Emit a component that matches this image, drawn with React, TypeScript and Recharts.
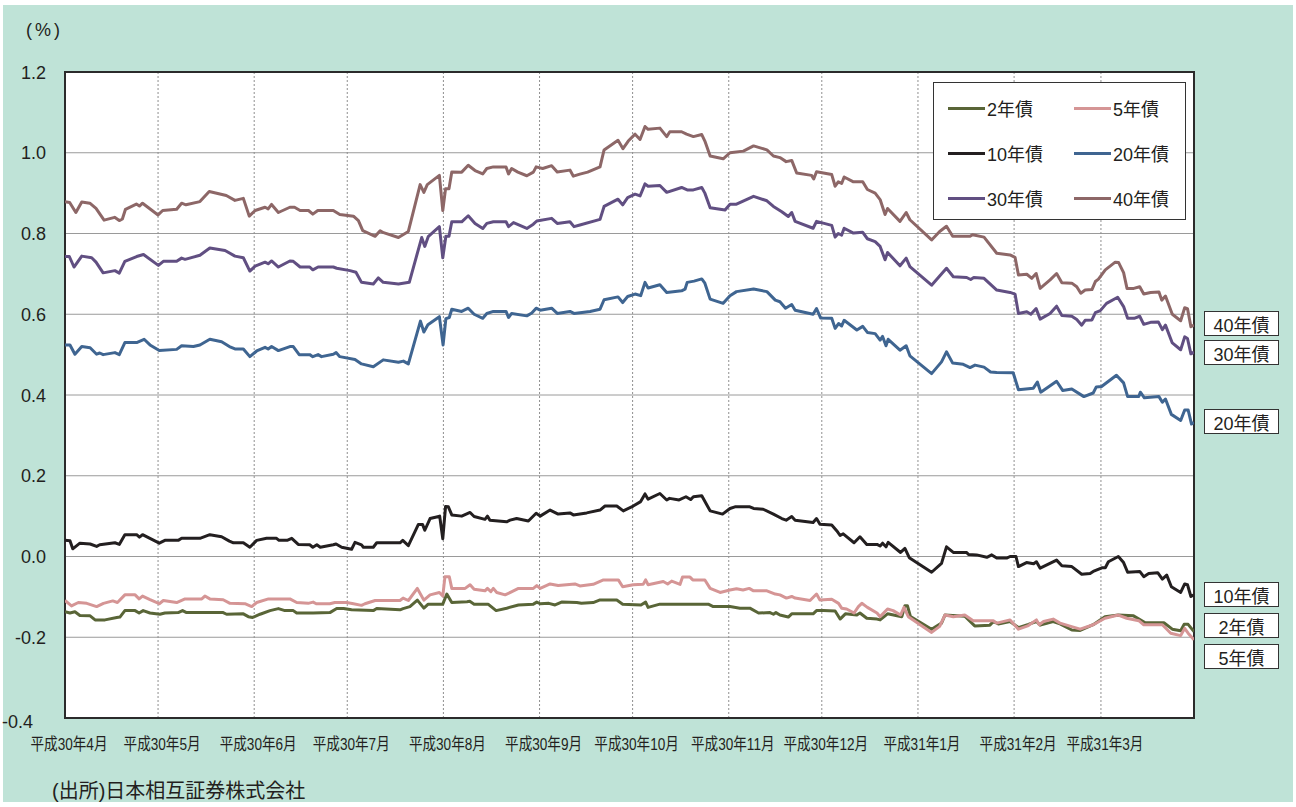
import React from 'react';
import { LineChart, Line, XAxis, YAxis, CartesianGrid, ReferenceArea } from 'recharts';

// days counted from 平成30年4月1日 (calendar days), yield in %
const monthTicks = [0, 30, 61, 91, 122, 153, 183, 214, 244, 275, 306, 334];
const monthLabels = [
  '平成30年4月', '平成30年5月', '平成30年6月', '平成30年7月', '平成30年8月', '平成30年9月',
  '平成30年10月', '平成30年11月', '平成30年12月', '平成31年1月', '平成31年2月', '平成31年3月',
];
const yTicks = [-0.4, -0.2, 0, 0.2, 0.4, 0.6, 0.8, 1.0, 1.2];

const bond2: [number, number][] = [
  [0, -0.137], [1.6, -0.14], [3.2, -0.137], [4.8, -0.146], [8.1, -0.147], [9.7, -0.157], [12.9, -0.157],
  [16.7, -0.151], [17.7, -0.15], [19.3, -0.134], [22.6, -0.134], [23.9, -0.14], [25.2, -0.134], [27.4, -0.14],
  [30.6, -0.143], [32.2, -0.14], [36.5, -0.139], [37.9, -0.134], [39.2, -0.139], [45.7, -0.139], [51, -0.139],
  [52.1, -0.143], [57.5, -0.142], [59.1, -0.149], [60.5, -0.151], [62.9, -0.143], [66.1, -0.134], [68.8, -0.129],
  [70.9, -0.134], [73.6, -0.134], [74.7, -0.14], [80, -0.14], [85.4, -0.139], [87.6, -0.129], [89.8, -0.129],
  [92.4, -0.132], [99.4, -0.134], [100.5, -0.129], [108, -0.132], [109, -0.129], [111.2, -0.124], [113.6, -0.108],
  [115.7, -0.128], [117.1, -0.118], [121.8, -0.118], [123.1, -0.093], [124.7, -0.114], [129.6, -0.112],
  [130.5, -0.111], [131.9, -0.118], [136.4, -0.118], [139, -0.134], [142.4, -0.128], [146.2, -0.12], [151, -0.118],
  [152.1, -0.113], [153.2, -0.117], [156, -0.116], [158, -0.12], [160.1, -0.113], [165, -0.114], [166.5, -0.116],
  [170.3, -0.114], [172.3, -0.108], [177.9, -0.108], [179.8, -0.118], [185.7, -0.12], [187.2, -0.113],
  [188, -0.126], [191.8, -0.118], [204, -0.118], [207.4, -0.118], [209, -0.124], [214.4, -0.124], [217.6, -0.128],
  [220.8, -0.128], [223.6, -0.14], [227.3, -0.139], [228.4, -0.143], [229.2, -0.139], [230.5, -0.145],
  [233.2, -0.15], [234.3, -0.142], [241.2, -0.142], [242.3, -0.134], [244.5, -0.134], [248.3, -0.135],
  [249.9, -0.155], [251.6, -0.142], [255.3, -0.145], [256.3, -0.14], [258.5, -0.153], [261.8, -0.155],
  [262.8, -0.157], [265.2, -0.142], [269.8, -0.149], [270.8, -0.122], [271.6, -0.122], [272.6, -0.149],
  [279.4, -0.18], [282.6, -0.165], [283.7, -0.145], [290.1, -0.148], [293.3, -0.172], [298.2, -0.17],
  [299.3, -0.161], [300.9, -0.167], [304.7, -0.161], [307.4, -0.176], [310.6, -0.168], [313.2, -0.161],
  [314.4, -0.17], [318.6, -0.161], [320.8, -0.167], [324.6, -0.182], [327.3, -0.183], [331.5, -0.169],
  [335.3, -0.149], [339.6, -0.145], [344.5, -0.147], [348.3, -0.164], [354.3, -0.164], [357, -0.18],
  [359.7, -0.184], [360.8, -0.168], [362.1, -0.168], [364, -0.186],
];

const bond5: [number, number][] = [
  [0, -0.109], [2.1, -0.1225], [4.3, -0.114], [7, -0.116], [10.2, -0.124], [12.4, -0.116], [15.4, -0.11],
  [16.9, -0.114], [19.3, -0.095], [22.6, -0.095], [23.9, -0.105], [25, -0.098], [27.4, -0.107], [30.4, -0.117],
  [31.7, -0.109], [36, -0.114], [38.7, -0.105], [44.1, -0.105], [45.1, -0.098], [46.7, -0.105], [51, -0.107],
  [53.2, -0.116], [58, -0.117], [60.2, -0.124], [61.8, -0.114], [65.6, -0.105], [72.5, -0.105], [74.7, -0.114],
  [78.4, -0.116], [80, -0.113], [81, -0.117], [85.4, -0.117], [87, -0.114], [90.8, -0.114], [93, -0.117],
  [95.6, -0.121], [96.7, -0.117], [100, -0.109], [108, -0.109], [109, -0.103], [110.7, -0.109], [113.6, -0.079],
  [115.7, -0.108], [117.7, -0.095], [120.7, -0.089], [121.8, -0.098], [122.5, -0.05], [123.9, -0.05],
  [124.7, -0.079], [129, -0.079], [130.6, -0.07], [131.9, -0.081], [135.4, -0.085], [136.2, -0.079],
  [137.3, -0.087], [138.1, -0.079], [139.2, -0.089], [141.9, -0.095], [144.1, -0.087], [146.2, -0.079],
  [151, -0.079], [152.1, -0.072], [153.2, -0.079], [156.4, -0.068], [159, -0.072], [164.4, -0.068],
  [166, -0.073], [170.3, -0.069], [173.6, -0.058], [178.4, -0.058], [179.8, -0.075], [183.2, -0.07],
  [186.4, -0.069], [187.2, -0.058], [188, -0.07], [192.9, -0.062], [194.3, -0.068], [195.6, -0.061],
  [198.3, -0.069], [199.1, -0.051], [201.5, -0.051], [202.4, -0.058], [206.3, -0.058], [208, -0.079],
  [211.2, -0.089], [214.4, -0.083], [216.5, -0.08], [218.6, -0.083], [220.6, -0.079], [222, -0.085],
  [226.3, -0.085], [229, -0.093], [230.5, -0.095], [232.6, -0.103], [234.3, -0.099], [235.4, -0.103],
  [240.2, -0.109], [242.3, -0.093], [243.4, -0.108], [247.2, -0.106], [249.4, -0.116], [250.4, -0.128],
  [252, -0.13], [254.4, -0.14], [255.8, -0.124], [256.9, -0.116], [258.7, -0.126], [261.8, -0.14],
  [262.8, -0.149], [265.2, -0.13], [267, -0.134], [269.4, -0.145], [270.5, -0.126], [271.9, -0.149],
  [279.4, -0.188], [282, -0.173], [283.7, -0.145], [286.4, -0.149], [290.1, -0.145], [292.8, -0.159],
  [299.3, -0.159], [300.4, -0.165], [304.7, -0.157], [307.4, -0.18], [310.6, -0.171], [313.2, -0.157],
  [314.1, -0.169], [315.5, -0.161], [318.6, -0.155], [320.8, -0.165], [325.1, -0.175], [327.3, -0.18],
  [331.5, -0.169], [335.3, -0.153], [339.6, -0.145], [342.3, -0.153], [346.2, -0.159], [347.8, -0.169],
  [353.8, -0.169], [356.5, -0.19], [359.7, -0.196], [361, -0.178], [362.1, -0.19], [364, -0.206],
];

const bond10: [number, number][] = [
  [0, 0.04], [1.6, 0.039], [2.5, 0.019], [4.8, 0.033], [8.1, 0.031], [10.2, 0.025], [11.2, 0.029], [16.1, 0.034],
  [17.5, 0.03], [19.3, 0.054], [23.1, 0.054], [24, 0.048], [25, 0.054], [30.4, 0.033], [32.2, 0.04], [36.5, 0.04],
  [37.6, 0.045], [43.5, 0.045], [46.7, 0.054], [50.5, 0.049], [53, 0.038], [54.3, 0.034], [57.5, 0.034],
  [59.6, 0.023], [61.8, 0.04], [65, 0.045], [68.2, 0.045], [69, 0.04], [71.6, 0.04], [73.1, 0.045], [75.2, 0.03],
  [78.9, 0.029], [79.9, 0.023], [81.2, 0.029], [82.3, 0.023], [86.5, 0.029], [87.4, 0.031], [89.2, 0.023],
  [92.4, 0.018], [93.5, 0.035], [95.6, 0.029], [96.2, 0.023], [99.4, 0.023], [100.5, 0.034], [108, 0.034],
  [108.9, 0.04], [110.7, 0.027], [113.9, 0.079], [115.3, 0.079], [116, 0.065], [117.7, 0.094], [119.8, 0.098],
  [120.8, 0.1], [121.8, 0.044], [122.7, 0.124], [123.6, 0.123], [124.7, 0.103], [127.9, 0.1], [130.6, 0.109],
  [131.9, 0.099], [135.4, 0.092], [136.2, 0.1], [137, 0.09], [142.4, 0.086], [143.5, 0.09], [145.6, 0.094],
  [149.4, 0.088], [151.9, 0.107], [153.2, 0.1], [156.4, 0.115], [159, 0.105], [162.8, 0.108], [163.9, 0.103],
  [168.2, 0.108], [172.5, 0.115], [174.1, 0.125], [177.9, 0.125], [180, 0.113], [183.2, 0.125], [185.6, 0.136],
  [187, 0.155], [188, 0.142], [191.8, 0.156], [194, 0.14], [194.9, 0.144], [198, 0.14], [200.2, 0.148],
  [201.7, 0.141], [202.6, 0.148], [205.3, 0.1505], [208, 0.113], [212, 0.105], [214.4, 0.119], [216, 0.123],
  [220.8, 0.123], [222, 0.119], [225.1, 0.117], [228.4, 0.105], [231.1, 0.094], [232.5, 0.09], [234.3, 0.099],
  [235.4, 0.09], [241.2, 0.084], [242.3, 0.094], [243.4, 0.08], [247.2, 0.078], [248.8, 0.064], [249.9, 0.052],
  [250.9, 0.056], [254.4, 0.034], [256.3, 0.049], [258.5, 0.03], [261.8, 0.03], [262.8, 0.026], [263.6, 0.033],
  [264.7, 0.024], [265.4, 0.035], [269.4, 0.01], [270.8, 0.02], [272.2, -0.003], [279.4, -0.039],
  [282.6, -0.017], [284.2, 0.024], [286.4, 0.01], [290.7, 0.01], [291.3, 0.005], [293.9, 0.004], [297.2, -0.002],
  [298.8, 0.004], [300.4, -0.004], [303.6, -0.004], [304.7, 0.0], [306.6, 0.0], [307.4, -0.025], [310, -0.015],
  [312.3, -0.018], [313.2, -0.013], [314.4, -0.029], [319.7, -0.009], [321.4, -0.023], [324.6, -0.025],
  [327.8, -0.044], [330.5, -0.042], [331.5, -0.037], [334.3, -0.028], [335.4, -0.028], [336.4, -0.013],
  [339.6, 0.0], [341.3, -0.015], [342.6, -0.039], [346.5, -0.037], [347.8, -0.05], [349.4, -0.042],
  [352.3, -0.04], [353.8, -0.056], [355.2, -0.046], [356.7, -0.075], [359.7, -0.089], [361, -0.068],
  [361.9, -0.07], [363, -0.099], [364, -0.095],
];

const bond20: [number, number][] = [
  [0, 0.524], [1.6, 0.524], [3.2, 0.501], [5.4, 0.52], [8.1, 0.517], [10.2, 0.501], [11.2, 0.504], [12.3, 0.5],
  [16.1, 0.505], [17.5, 0.5], [19.3, 0.53], [23.1, 0.53], [25.5, 0.538], [27.4, 0.524], [30.4, 0.51], [36, 0.513],
  [37.6, 0.522], [41.4, 0.52], [43.5, 0.524], [46.7, 0.538], [50.5, 0.532], [53, 0.52], [54.8, 0.514],
  [57.5, 0.514], [59.6, 0.495], [61.8, 0.509], [64.5, 0.518], [65.5, 0.514], [66.6, 0.52], [68.8, 0.51],
  [72.5, 0.52], [73.6, 0.52], [75.5, 0.5], [78.9, 0.5], [79.9, 0.495], [81.6, 0.5], [82.7, 0.495], [86.5, 0.501],
  [87.4, 0.505], [88.6, 0.495], [93.5, 0.488], [95.6, 0.477], [99.4, 0.47], [102.6, 0.487], [107.5, 0.481],
  [109.1, 0.484], [110.7, 0.477], [114.6, 0.583], [115.7, 0.556], [117, 0.574], [120.7, 0.594], [121.9, 0.524],
  [122.8, 0.589], [123.9, 0.592], [124.7, 0.6125], [127.9, 0.607], [130, 0.615], [131.9, 0.6], [134.7, 0.59],
  [136, 0.602], [138.1, 0.607], [142.2, 0.607], [143, 0.592], [144, 0.602], [148.9, 0.596], [150.5, 0.603],
  [151.9, 0.615], [153.2, 0.61], [156.9, 0.615], [158.7, 0.602], [162.8, 0.607], [164.1, 0.602],
  [169.3, 0.607], [172.5, 0.6125], [173.8, 0.636], [178.3, 0.643], [179.8, 0.629], [181.4, 0.644],
  [183.8, 0.65], [185.6, 0.646], [187, 0.679], [188, 0.665], [191.8, 0.673], [194, 0.654], [198.8, 0.658],
  [199.9, 0.662], [200.6, 0.679], [202.8, 0.682], [205.3, 0.6875], [206.3, 0.677], [208, 0.6375],
  [212.2, 0.627], [214.4, 0.646], [216.5, 0.656], [222, 0.6625], [226.3, 0.656], [229, 0.635], [230.5, 0.631],
  [232.3, 0.615], [234.3, 0.624], [235.4, 0.61], [241.2, 0.6], [242.3, 0.614], [243.6, 0.591], [247.2, 0.59],
  [248.3, 0.565], [249.4, 0.577], [250.4, 0.571], [251.2, 0.585], [255.3, 0.561], [257.2, 0.57],
  [258.7, 0.555], [261.2, 0.552], [262.8, 0.536], [263.6, 0.545], [264.7, 0.522], [265.4, 0.538],
  [269.2, 0.511], [271.2, 0.522], [272.4, 0.497], [279.4, 0.453], [282.6, 0.482], [284.2, 0.507],
  [286.2, 0.479], [289.6, 0.476], [291.8, 0.468], [293.4, 0.474], [296.3, 0.469], [298.4, 0.457],
  [300.4, 0.456], [305.7, 0.455], [307.4, 0.413], [312.2, 0.417], [313.5, 0.432], [314.6, 0.407],
  [319.7, 0.434], [321.7, 0.411], [324.6, 0.415], [328.5, 0.396], [331.5, 0.405], [332.5, 0.42],
  [334.2, 0.421], [339, 0.449], [341.3, 0.43], [342.6, 0.396], [346.2, 0.396], [346.7, 0.407], [348, 0.393],
  [352.7, 0.396], [353.8, 0.382], [354.8, 0.39], [356.7, 0.352], [359.7, 0.337], [361, 0.363], [362.1, 0.363],
  [363.2, 0.328], [364, 0.332],
];

const bond30: [number, number][] = [
  [0, 0.743], [1.4, 0.743], [2.9, 0.717], [5.4, 0.744], [8.6, 0.74], [10, 0.729], [12.3, 0.7025], [16.1, 0.708],
  [17.5, 0.702], [19.3, 0.731], [23.1, 0.743], [25.3, 0.748], [30.1, 0.721], [31.7, 0.731], [36, 0.731],
  [37.6, 0.739], [38.7, 0.736], [43.5, 0.746], [46.7, 0.764], [51.6, 0.758], [54.8, 0.744], [57.5, 0.74],
  [59.6, 0.707], [61.3, 0.719], [64.5, 0.729], [65.5, 0.725], [66.6, 0.732], [68.8, 0.717], [72.5, 0.732],
  [73.6, 0.731], [75.8, 0.717], [78.9, 0.717], [79.9, 0.71], [81.6, 0.717], [86.5, 0.717], [87.6, 0.714],
  [91.9, 0.708], [93.8, 0.704], [95.6, 0.679], [99.4, 0.675], [101, 0.69], [102.6, 0.679], [107.5, 0.675],
  [111, 0.679], [115, 0.79], [116, 0.768], [117.1, 0.792], [120.7, 0.817], [121.8, 0.74], [122.8, 0.793],
  [123.8, 0.793], [124.7, 0.829], [127.9, 0.829], [130, 0.844], [132.2, 0.825], [134.7, 0.8125], [136, 0.825],
  [138.1, 0.829], [142.2, 0.829], [143, 0.817], [144.6, 0.827], [148.9, 0.8125], [151, 0.823], [152.1, 0.831],
  [156.9, 0.8375], [158.7, 0.825], [162.8, 0.829], [164.1, 0.817], [166, 0.821], [172.5, 0.835],
  [173.8, 0.867], [178.3, 0.885], [179.8, 0.871], [181.4, 0.889], [183.8, 0.8975], [185.4, 0.893],
  [187, 0.923], [188, 0.917], [191.8, 0.919], [194, 0.902], [198.8, 0.914], [200.6, 0.908], [202.6, 0.908],
  [205.3, 0.914], [206.3, 0.9], [208, 0.864], [212.8, 0.858], [214.4, 0.8725], [216.5, 0.8725], [222, 0.892],
  [226.3, 0.881], [228.4, 0.867], [231.1, 0.854], [233.2, 0.842], [234.3, 0.852], [235.4, 0.83],
  [241.2, 0.813], [242.3, 0.83], [247.2, 0.82], [248.3, 0.791], [249.3, 0.8], [250.4, 0.796], [251.2, 0.813],
  [254.2, 0.801], [257.2, 0.803], [258.7, 0.787], [261.2, 0.78], [262.8, 0.768], [264.4, 0.735],
  [265.2, 0.753], [269.2, 0.72], [271.2, 0.739], [272.4, 0.718], [279.4, 0.672], [282, 0.695], [284.2, 0.714],
  [286.4, 0.693], [290.7, 0.691], [292, 0.686], [293, 0.691], [296.3, 0.689], [300.4, 0.66], [304.7, 0.654],
  [306.3, 0.65], [307.4, 0.602], [310.1, 0.606], [311.4, 0.6], [313.1, 0.614], [314.4, 0.588], [317.6, 0.602],
  [319.7, 0.62], [321.4, 0.597], [324.6, 0.595], [326.2, 0.587], [327.8, 0.573], [328.9, 0.585],
  [331.1, 0.586], [332.2, 0.604], [333.8, 0.609], [335.8, 0.627], [339.4, 0.642], [341.3, 0.619],
  [342.6, 0.59], [344.7, 0.59], [346.5, 0.595], [347.8, 0.575], [350, 0.58], [352.5, 0.581], [353.8, 0.562],
  [354.8, 0.573], [357, 0.529], [359.7, 0.512], [361, 0.544], [361.9, 0.54], [363, 0.502], [364, 0.506],
];

const bond40: [number, number][] = [
  [0, 0.879], [1.5, 0.877], [3.5, 0.852], [5.4, 0.878], [8, 0.875], [10, 0.862], [12.6, 0.833], [16, 0.84],
  [17.5, 0.832], [18.5, 0.836], [19.5, 0.86], [23, 0.873], [24, 0.868], [25, 0.875], [30, 0.846], [31.5, 0.857],
  [36, 0.86], [37.6, 0.875], [39, 0.871], [43.5, 0.879], [46.5, 0.904], [52, 0.894], [54.8, 0.882],
  [57.5, 0.887], [59.4, 0.843], [61.3, 0.857], [64.5, 0.865], [65.5, 0.861], [66.6, 0.872], [68.8, 0.852],
  [72.5, 0.865], [74, 0.865], [75.8, 0.857], [78.5, 0.857], [79.9, 0.848], [81.5, 0.857], [86.5, 0.857],
  [88.6, 0.847], [93, 0.843], [94.6, 0.832], [96, 0.807], [100, 0.793], [101.6, 0.807], [102.7, 0.802],
  [107.5, 0.79], [110.7, 0.805], [114.5, 0.921], [115.7, 0.902], [116.8, 0.921], [120.7, 0.944],
  [121.8, 0.857], [122.7, 0.911], [123.8, 0.911], [124.7, 0.9525], [127.9, 0.952], [130, 0.969],
  [132.2, 0.956], [134.7, 0.9475], [136, 0.961], [138.1, 0.965], [142.2, 0.965], [143, 0.9475], [144, 0.961],
  [146, 0.952], [148.9, 0.943], [151, 0.952], [151.9, 0.965], [154, 0.961], [156.9, 0.968], [158.7, 0.9525],
  [162.8, 0.957], [163.9, 0.942], [166, 0.947], [168.5, 0.952], [172.5, 0.965], [173.8, 1.007], [178.3, 1.031],
  [179.9, 1.01], [181.6, 1.029], [183.8, 1.046], [185.4, 1.033], [187, 1.065], [188, 1.058], [191.8, 1.061],
  [194, 1.04], [195, 1.052], [198.8, 1.052], [200.4, 1.046], [202.6, 1.04], [205.3, 1.045], [206.3, 1.029],
  [208, 0.992], [212.2, 0.985], [214.4, 1.0], [218.7, 1.004], [222, 1.017], [226.3, 1.007], [228.4, 0.992],
  [230.5, 0.988], [232.5, 0.978], [234.3, 0.981], [235.9, 0.95], [240.7, 0.944], [241.4, 0.935],
  [242.3, 0.953], [247.2, 0.946], [248.3, 0.917], [249.3, 0.928], [250.4, 0.924], [251.2, 0.94],
  [254.2, 0.928], [257.2, 0.928], [258.7, 0.909], [261.2, 0.9], [262.8, 0.884], [264.4, 0.847],
  [265.2, 0.862], [269.2, 0.83], [271.2, 0.852], [272.4, 0.834], [279.4, 0.784], [282, 0.805], [284.2, 0.818],
  [286.2, 0.793], [291.8, 0.793], [292.6, 0.797], [296.3, 0.791], [300.4, 0.751], [304.7, 0.747],
  [306.3, 0.741], [307.4, 0.697], [310.1, 0.699], [311.7, 0.689], [313.1, 0.701], [314.4, 0.664],
  [317.6, 0.685], [319.7, 0.701], [321.4, 0.678], [324.6, 0.677], [326.2, 0.668], [327.5, 0.652],
  [328.9, 0.66], [331.1, 0.661], [332.2, 0.681], [333.2, 0.687], [335.4, 0.71], [338.6, 0.729],
  [339.7, 0.728], [341.3, 0.703], [342.4, 0.664], [344.6, 0.664], [346.5, 0.668], [347.8, 0.65], [350, 0.654],
  [352.7, 0.655], [353.6, 0.635], [354.8, 0.645], [357, 0.6], [359.7, 0.584], [361, 0.616], [361.9, 0.614],
  [363, 0.569], [364, 0.573],
];

const SERIES = [
  { name: '2年債', data: bond2, color: '#596537' },
  { name: '5年債', data: bond5, color: '#d59595' },
  { name: '10年債', data: bond10, color: '#231f20' },
  { name: '20年債', data: bond20, color: '#3f6591' },
  { name: '30年債', data: bond30, color: '#614f82' },
  { name: '40年債', data: bond40, color: '#8d6767' },
];

// legend order: rows of two
const legendOrder = ['2年債', '5年債', '10年債', '20年債', '30年債', '40年債'];

// end labels at the right of the plot
const endLabels = [
  { name: '40年債', top: 311 },
  { name: '30年債', top: 340 },
  { name: '20年債', top: 409 },
  { name: '10年債', top: 582 },
  { name: '2年債', top: 613 },
  { name: '5年債', top: 644 },
];

const FONT = '"Liberation Sans", Arial, "Noto Sans CJK JP", sans-serif';
const BG = '#bfe3d7';

const toPoints = (arr: [number, number][]) => arr.map(([d, v]) => ({ d, v }));

const XTick = (props: any) => {
  const { x, y, index } = props;
  const label = monthLabels[index] ?? '';
  return (
    <text
      transform={`translate(${x + 4},${y + 32}) scale(0.8,1)`}
      textAnchor="middle"
      fontSize={17}
      fontFamily={FONT}
      fill="#231f20"
    >
      {label}
    </text>
  );
};

const YTick = (props: any) => {
  const { x, y, payload } = props;
  const v = payload.value as number;
  const low = v < -0.3;
  return (
    <text
      x={low ? x - 32 : x - 19}
      y={low ? y + 9.5 : y + 6.5}
      textAnchor="end"
      fontSize={18}
      fontFamily={FONT}
      fill="#231f20"
    >
      {v.toFixed(1)}
    </text>
  );
};

export default function App() {
  return (
    <div style={{ position: 'relative', width: 1296, height: 807, background: '#fff', fontFamily: FONT }}>
      <style>{'body{margin:0}'}</style>
      <div style={{ position: 'absolute', left: 3, top: 5, width: 1290, height: 797, background: BG }} />

      <div style={{ position: 'absolute', left: 0, top: 0 }}>
        <LineChart width={1296} height={807} margin={{ top: 72, right: 102, bottom: 59, left: 5 }}>
          <CartesianGrid horizontal vertical={false} stroke="#9a9a9a" fill="#ffffff" />
          <CartesianGrid horizontal={false} vertical stroke="#8f8f8f" strokeDasharray="2 2" />
          <XAxis
            dataKey="d"
            type="number"
            domain={[0, 364]}
            ticks={monthTicks}
            interval={0}
            tickLine={false}
            axisLine={false}
            tickSize={0}
            tickMargin={0}
            height={30}
            tick={<XTick />}
            allowDataOverflow
          />
          <YAxis
            type="number"
            domain={[-0.4, 1.2]}
            ticks={yTicks}
            interval={0}
            tickLine={false}
            axisLine={false}
            tickSize={0}
            tickMargin={0}
            width={60}
            tick={<YTick />}
            allowDataOverflow
          />
          {SERIES.map((s) => (
            <Line
              key={s.name}
              data={toPoints(s.data)}
              dataKey="v"
              name={s.name}
              type="linear"
              stroke={s.color}
              strokeWidth={3}
              strokeLinejoin="round"
              dot={false}
              activeDot={false}
              isAnimationActive={false}
            />
          ))}
          <ReferenceArea x1={0} x2={364} y1={-0.4} y2={1.2} fill="none" stroke="#2b2b2b" strokeWidth={2} />
        </LineChart>
      </div>

      <div style={{ position: 'absolute', left: 26, top: 20, fontSize: 18, color: '#231f20', letterSpacing: 3 }}>(%)</div>

      <div
        style={{
          position: 'absolute', left: 933, top: 82, width: 253, height: 138, boxSizing: 'border-box',
          border: '1.5px solid #333', background: '#fff',
        }}
      >
        {legendOrder.map((n, i) => {
          const s = SERIES.find((x) => x.name === n)!;
          const col = i % 2;
          const row = Math.floor(i / 2);
          return (
            <div
              key={n}
              style={{
                position: 'absolute', left: col === 0 ? 14 : 140, top: 13 + row * 45, height: 24,
                display: 'flex', alignItems: 'center', fontSize: 18, color: '#231f20',
              }}
            >
              <span style={{ display: 'inline-block', width: 37, height: 3, background: s.color, marginRight: 2 }} />
              <span>{n}</span>
            </div>
          );
        })}
      </div>

      {endLabels.map((l) => (
        <div
          key={l.name}
          style={{
            position: 'absolute', left: 1204, top: l.top, width: 75, height: 25, boxSizing: 'border-box',
            border: '1.5px solid #333', background: '#fff', fontSize: 18, color: '#231f20',
            display: 'flex', alignItems: 'center', justifyContent: 'center',
          }}
        >
          {l.name}
        </div>
      ))}

      <div style={{ position: 'absolute', left: 52, top: 775, fontSize: 20, color: '#231f20' }}>
        (出所)日本相互証券株式会社
      </div>
    </div>
  );
}
